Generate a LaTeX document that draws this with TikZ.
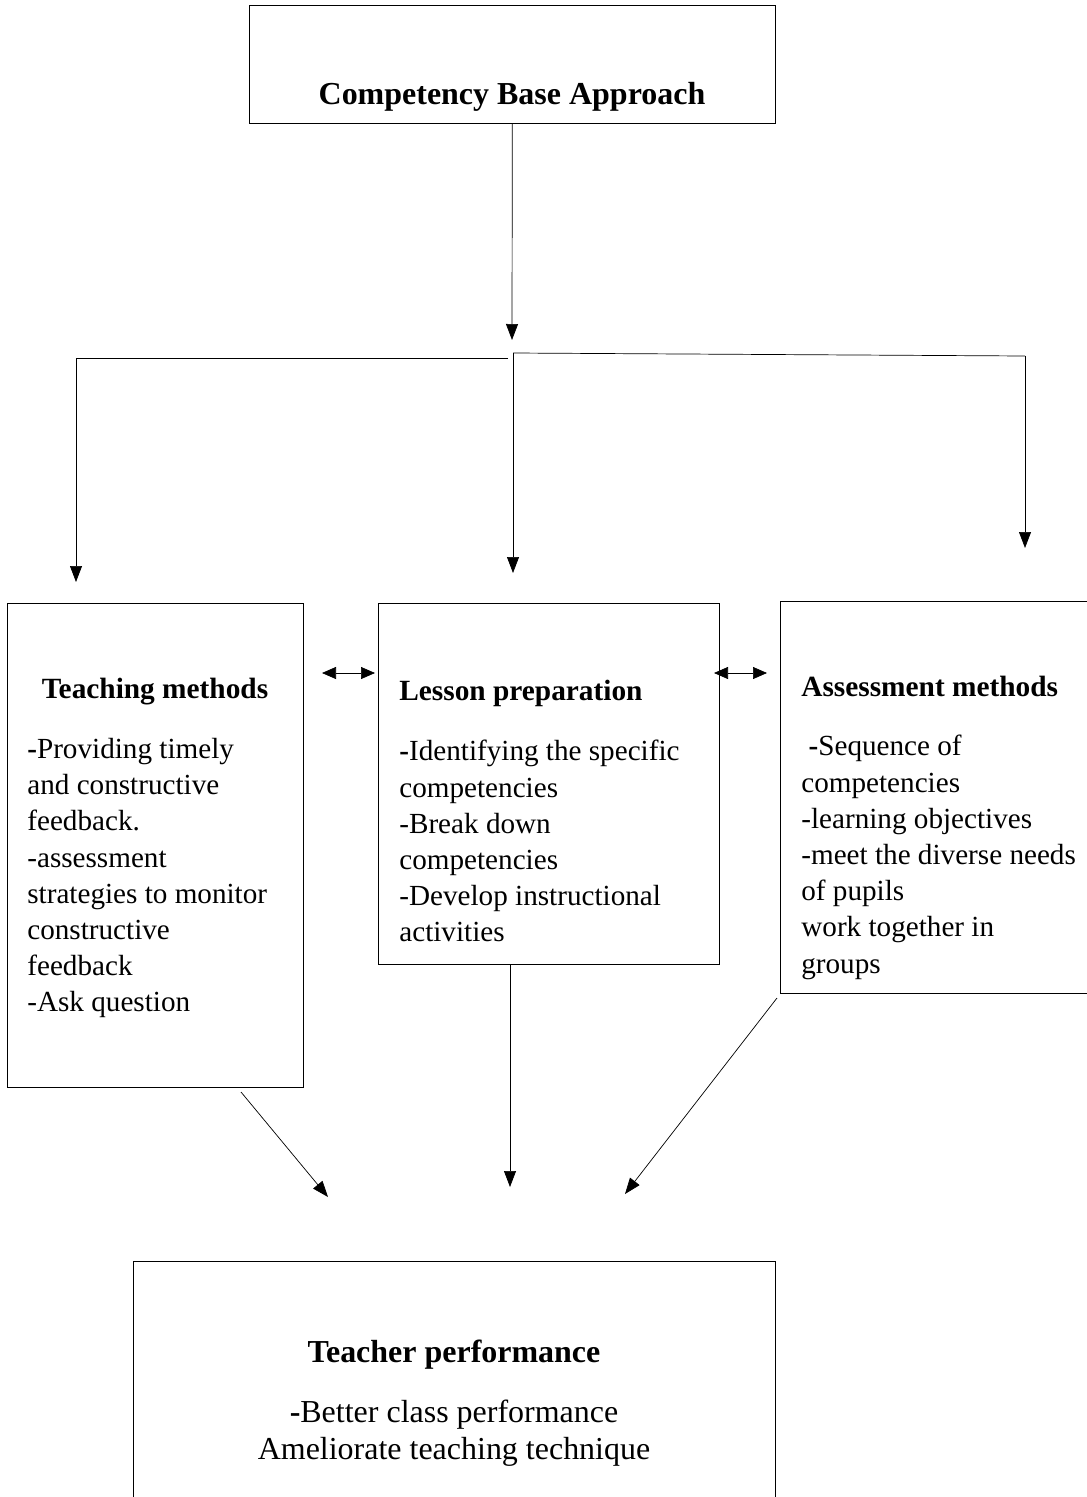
\documentclass[tikz,border=0pt]{standalone}
\usepackage{fontspec}
\setmainfont{Liberation Serif}
\usetikzlibrary{arrows.meta}

\begin{document}
\begin{tikzpicture}[x=0.02cm,y=-0.02cm,
        box/.style={draw,rectangle,inner sep=0pt,anchor=north west},
        head/.style={font=\bfseries\fontsize{16.7}{20.6}\selectfont,inner sep=0pt},
        bighead/.style={font=\bfseries\fontsize{18.2}{20.6}\selectfont,inner sep=0pt},
        body/.style={font=\fontsize{16.6}{20.6}\selectfont,align=left,inner sep=0pt,anchor=north west},
        bigbody/.style={font=\fontsize{18.2}{20.6}\selectfont,align=center,inner sep=0pt},
        arr/.style={-{Triangle[length=0.32cm,width=0.24cm]}},
        dbl/.style={{Triangle[length=0.28cm,width=0.24cm]}-{Triangle[length=0.28cm,width=0.24cm]}}]
    \useasboundingbox (0,0) rectangle (1087,1497);

    % boxes
    \node[box, minimum width=10.52cm, minimum height=2.36cm] at (249,5) (cba) {};
    \node[box, minimum width=5.92cm, minimum height=9.68cm] at (7,603) (teach) {};
    \node[box, minimum width=6.82cm, minimum height=7.22cm] at (378,603) (lesson) {};
    \node[box, minimum width=6.14cm, minimum height=7.84cm] at (780,601) (assess) {};
    \node[box, minimum width=12.84cm, minimum height=5.0cm] at (133,1261) (perf) {};

    % texts
    \node[bighead, anchor=base] at (512,105) (cbaText) {Competency Base Approach};

    \node[head, anchor=base] at (155,698) (teachHead) {Teaching methods};
    \node[body] at (27,738) (teachText) {\textbf{-}Providing timely\\and constructive\\feedback.\\-assessment\\strategies to monitor\\constructive\\feedback\\-Ask question};

    \node[head, anchor=base west] at (399,700) (lessonHead) {Lesson preparation};
    \node[body] at (399,740) (lessonText) {\textbf{-}Identifying the specific\\competencies\\-Break down\\competencies\\-Develop instructional\\activities};

    \node[head, anchor=base west] at (801,696) (assessHead) {Assessment methods};
    \node[body] at (801,735) (assessText) {\ \textbf{-}Sequence of\\competencies\\-learning objectives\\-meet the diverse needs\\of pupils\\work together in\\groups};

    \node[bighead, anchor=base] at (454,1362) (perfHead) {Teacher performance};
    \node[bigbody, anchor=base] at (454,1459) (perfText) {\textbf{-}Better class performance\\Ameliorate teaching technique};

    % junctions and free ends
    \coordinate (split) at (512,340);
    \coordinate (lt) at (76,358);
    \coordinate (lm) at (508,358);
    \coordinate (mt) at (513,353);
    \coordinate (rt) at (1025,356);
    \coordinate (teachTip) at (76,582);
    \coordinate (lessonTip) at (513,573);
    \coordinate (assessTip) at (1025,548);

    \coordinate (d1a) at (322,673);
    \coordinate (d1b) at (375,673);
    \coordinate (d2a) at (714,673);
    \coordinate (d2b) at (767,673);

    \coordinate (teachOut) at (241,1092);
    \coordinate (teachIn) at (328,1197);
    \coordinate (lessonIn) at (510,1187);
    \coordinate (assessOut) at (777,998);
    \coordinate (assessIn) at (625,1194);

    % connectors
    \draw[arr] (cba.south) -- (split);
    \draw (lm) -- (lt);
    \draw[arr] (lt) -- (teachTip);
    \draw[arr] (mt) -- (lessonTip);
    \draw (mt) -- (rt);
    \draw[arr] (rt) -- (assessTip);

    \draw[dbl] (d1a) -- (d1b);
    \draw[dbl] (d2a) -- (d2b);

    \draw[arr] (teachOut) -- (teachIn);
    \draw[arr] (lesson.south -| lessonIn) -- (lessonIn);
    \draw[arr] (assessOut) -- (assessIn);
\end{tikzpicture}
\end{document}
